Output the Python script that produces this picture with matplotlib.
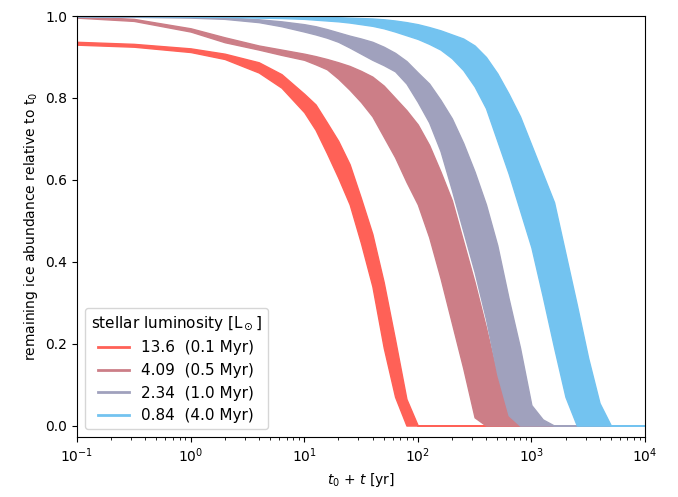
import numpy as np
import matplotlib
matplotlib.use("Agg")
import matplotlib.pyplot as plt
from matplotlib.lines import Line2D

# time grid (log10 of t0 + t in yr)
log_t = [-1, -0.5, 0, 0.3, 0.6, 0.8,
         1.0, 1.1, 1.2, 1.3, 1.4, 1.5, 1.6, 1.7, 1.8, 1.9,
         2.0, 2.1, 2.2, 2.3, 2.4, 2.5, 2.6, 2.7, 2.8, 2.9,
         3.0, 3.1, 3.2, 3.3, 3.4, 3.5, 3.6, 3.7, 4.0]

# upper / lower edge of each band (remaining ice fraction)
red_hi = [0.937, 0.932, 0.921, 0.908, 0.887, 0.858, 0.810, 0.784, 0.740, 0.695,
          0.638, 0.555, 0.468, 0.350, 0.210, 0.065, 0] + [0] * 18
red_lo = [0.930, 0.925, 0.912, 0.895, 0.862, 0.825, 0.765, 0.722, 0.665, 0.605,
          0.540, 0.445, 0.340, 0.190, 0.070, 0, 0] + [0] * 18

rose_hi = [1.0, 0.993, 0.970, 0.948, 0.928, 0.918, 0.908, 0.902, 0.895, 0.887,
           0.878, 0.866, 0.852, 0.830, 0.800, 0.770, 0.735, 0.685, 0.620, 0.550,
           0.450, 0.350, 0.240, 0.120, 0.025, 0] + [0] * 9
rose_lo = [0.996, 0.988, 0.962, 0.936, 0.918, 0.905, 0.893, 0.882, 0.870, 0.847,
           0.820, 0.790, 0.755, 0.705, 0.655, 0.595, 0.540, 0.460, 0.360, 0.250,
           0.140, 0.020, 0] + [0] * 12

grey_hi = [1.0, 1.0, 0.999, 0.997, 0.992, 0.987, 0.980, 0.975, 0.968, 0.960,
           0.952, 0.945, 0.937, 0.925, 0.910, 0.890, 0.862, 0.835, 0.795, 0.750,
           0.690, 0.620, 0.540, 0.440, 0.310, 0.190, 0.050, 0.015, 0] + [0] * 6
grey_lo = [0.999, 0.998, 0.996, 0.993, 0.985, 0.975, 0.962, 0.955, 0.947, 0.937,
           0.923, 0.908, 0.893, 0.880, 0.865, 0.835, 0.790, 0.740, 0.670, 0.575,
           0.475, 0.375, 0.260, 0.125, 0.025, 0] + [0] * 9

blue_hi = [1.0, 1.0, 1.0, 1.0, 1.0, 0.999, 0.999, 0.998, 0.998, 0.997,
           0.996, 0.995, 0.994, 0.992, 0.989, 0.985, 0.980, 0.973, 0.965, 0.955,
           0.945, 0.928, 0.900, 0.860, 0.810, 0.755, 0.685, 0.615, 0.545, 0.420,
           0.295, 0.165, 0.055, 0, 0]
blue_lo = [1.0, 1.0, 0.999, 0.998, 0.996, 0.995, 0.993, 0.991, 0.989, 0.987,
           0.984, 0.980, 0.976, 0.970, 0.962, 0.953, 0.944, 0.932, 0.918, 0.897,
           0.868, 0.828, 0.775, 0.695, 0.615, 0.525, 0.435, 0.315, 0.190, 0.070,
           0, 0, 0, 0, 0]

labels = ["13.6  (0.1 Myr)", "4.09  (0.5 Myr)", "2.34  (1.0 Myr)", "0.84  (4.0 Myr)"]
colors = ["#ff6157", "#cc7e87", "#a0a1bd", "#73c3f0"]
bands = [(red_lo, red_hi), (rose_lo, rose_hi), (grey_lo, grey_hi), (blue_lo, blue_hi)]

t = 10 ** np.array(log_t)

fig = plt.figure(figsize=(6.78, 4.97), dpi=100)
ax = fig.add_axes([0.1136, 0.1207, 0.8377, 0.8471])

for (lo, hi), c in zip(bands, colors):
    ax.fill_between(t, lo, hi, color=c)

ax.set_xscale("log")
ax.set_xlim(1e-1, 1e4)
ax.set_ylim(-0.028, 1.0)
ax.set_xlabel("$t_0$ + $t$ [yr]")
ax.set_ylabel("remaining ice abundance relative to t$_0$")

handles = [Line2D([], [], color=c, lw=2) for c in colors]
ax.legend(handles, labels, title=r"stellar luminosity [L$_\odot$]", loc="lower left",
          fontsize=11, title_fontsize=11)

fig.savefig("out.png", dpi=100)
